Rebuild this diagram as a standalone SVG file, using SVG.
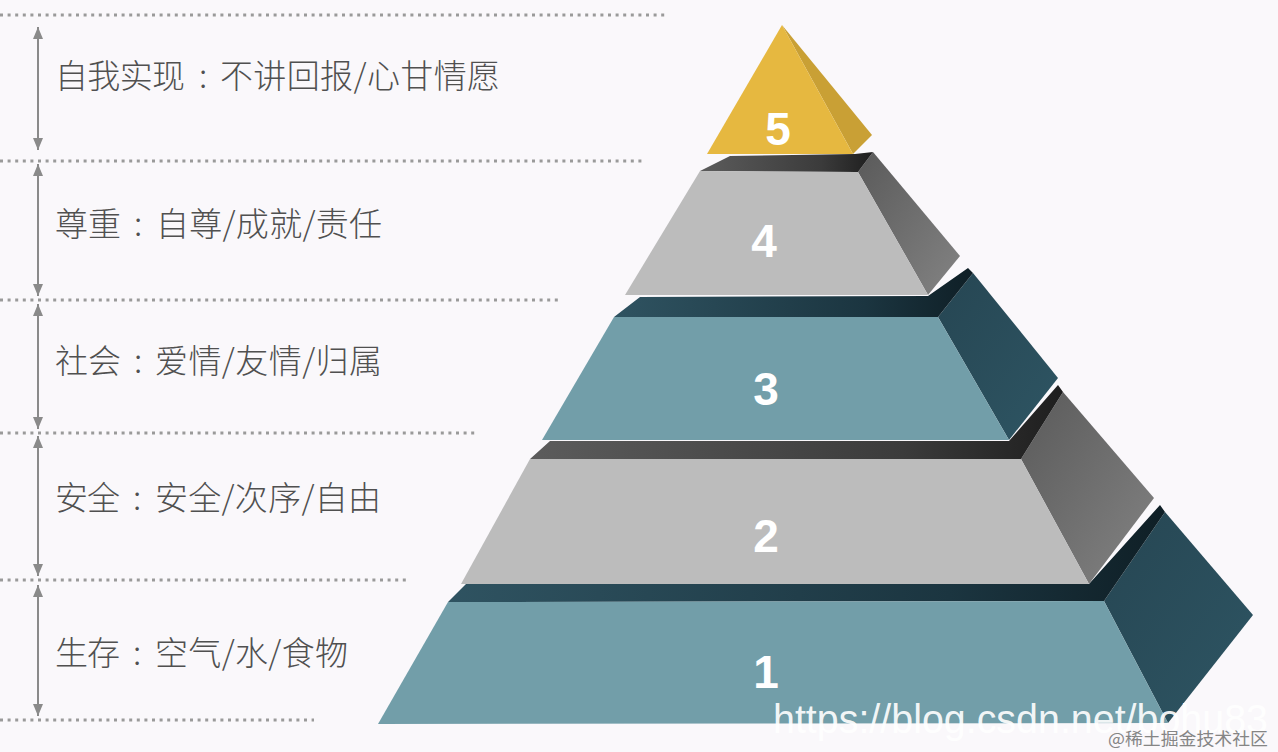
<svg xmlns="http://www.w3.org/2000/svg" width="1278" height="752" viewBox="0 0 1278 752">
<style>
.lbl{font-family:"Noto Sans CJK SC","Noto Sans",sans-serif;font-size:33px;font-weight:300;fill:#505050}
.col{text-anchor:middle}
.num{font-family:"Liberation Sans",Arial,sans-serif;font-size:46px;font-weight:bold;fill:#ffffff;text-anchor:middle}
.dot{stroke:#9a9a9a;stroke-width:3;stroke-dasharray:3 4.6;fill:none}
.arr{stroke:#8a8a8a;stroke-width:2;fill:none;marker-start:url(#ah);marker-end:url(#ah)}
.tealF{fill:#729ea9}
.greyF{fill:#bcbcbc}
</style>
<defs>
<marker id="ah" viewBox="0 0 12 10" refX="12" refY="5" markerWidth="12" markerHeight="10" orient="auto-start-reverse" markerUnits="userSpaceOnUse">
<path d="M0,0 L12,5 L0,10 Z" fill="#8a8a8a"/>
</marker>
<linearGradient id="tealBand" x1="0" y1="0" x2="1" y2="0">
<stop offset="0" stop-color="#2f5361"/><stop offset="0.7" stop-color="#1b3540"/><stop offset="1" stop-color="#0f1f26"/>
</linearGradient>
<linearGradient id="greyBand" x1="0" y1="0" x2="1" y2="0">
<stop offset="0" stop-color="#5c5c5c"/><stop offset="0.7" stop-color="#3b3b3b"/><stop offset="1" stop-color="#1e1e1e"/>
</linearGradient>
<linearGradient id="tealSide" x1="0" y1="0" x2="1" y2="1">
<stop offset="0" stop-color="#264653"/><stop offset="1" stop-color="#2e5563"/>
</linearGradient>
<linearGradient id="greySide" x1="0" y1="0" x2="1" y2="1">
<stop offset="0" stop-color="#5a5a5a"/><stop offset="1" stop-color="#838383"/>
</linearGradient>
</defs>
<rect width="1278" height="752" fill="#faf8fb"/>

<g id="connectors">
<line class="dot" x1="0" y1="15" x2="667" y2="15"/>
<line class="dot" x1="0" y1="161" x2="645" y2="161"/>
<line class="dot" x1="0" y1="300" x2="561" y2="300"/>
<line class="dot" x1="0" y1="433" x2="478" y2="433"/>
<line class="dot" x1="0" y1="580" x2="407" y2="580"/>
<line class="dot" x1="0" y1="720" x2="314" y2="720"/>
<line class="arr" x1="38" y1="27" x2="38" y2="150"/>
<line class="arr" x1="38" y1="164" x2="38" y2="296"/>
<line class="arr" x1="38" y1="304" x2="38" y2="429"/>
<line class="arr" x1="38" y1="436" x2="38" y2="576"/>
<line class="arr" x1="38" y1="585" x2="38" y2="716"/>
</g>

<g id="label-5">
<text class="lbl" x="55" y="88" textLength="130" lengthAdjust="spacing">自我实现</text>
<text class="lbl col" x="203" y="88">:</text>
<text class="lbl" x="220" y="88" textLength="280" lengthAdjust="spacing">不讲回报/心甘情愿</text>
</g>
<g id="label-4">
<text class="lbl" x="55" y="236" textLength="66" lengthAdjust="spacing">尊重</text>
<text class="lbl col" x="138" y="236">:</text>
<text class="lbl" x="156" y="236" textLength="226" lengthAdjust="spacing">自尊/成就/责任</text>
</g>
<g id="label-3">
<text class="lbl" x="55" y="373" textLength="66" lengthAdjust="spacing">社会</text>
<text class="lbl col" x="138" y="373">:</text>
<text class="lbl" x="155" y="373" textLength="227" lengthAdjust="spacing">爱情/友情/归属</text>
</g>
<g id="label-2">
<text class="lbl" x="55" y="510" textLength="65" lengthAdjust="spacing">安全</text>
<text class="lbl col" x="137" y="510">:</text>
<text class="lbl" x="155" y="510" textLength="226" lengthAdjust="spacing">安全/次序/自由</text>
</g>
<g id="label-1">
<text class="lbl" x="55" y="665" textLength="65" lengthAdjust="spacing">生存</text>
<text class="lbl col" x="137" y="665">:</text>
<text class="lbl" x="155" y="665" textLength="193" lengthAdjust="spacing">空气/水/食物</text>
</g>

<g id="level-1">
<polygon points="1104,601 1165,512 1253,615 1168,723" fill="url(#tealSide)"/>
<polygon points="448,602 466,584 1089,584 1160,505 1165,512 1104,601" fill="url(#tealBand)"/>
<polygon class="tealF" points="448,602 1104,601 1168,723 378,724"/>
<text class="num" x="766" y="688">1</text>
</g>

<g id="level-2">
<polygon points="1021,459 1063,392 1154,498 1089,584" fill="url(#greySide)"/>
<polygon points="530,459 550,441 1009,441 1058,385 1063,392 1021,459" fill="url(#greyBand)"/>
<polygon class="greyF" points="530,459 1021,459 1089,584 461,584"/>
<text class="num" x="766" y="552">2</text>
</g>

<g id="level-3">
<polygon points="938,317 973,273 1058,378 1009,440" fill="url(#tealSide)"/>
<polygon points="614,317 640,297 928,296 968,268 973,273 938,317" fill="url(#tealBand)"/>
<polygon class="tealF" points="614,317 938,317 1009,440 542,440"/>
<text class="num" x="766" y="405">3</text>
</g>

<g id="level-4">
<polygon points="858,172 873,152 960,256 928,295" fill="url(#greySide)"/>
<polygon points="700,171 730,156 855,154 873,152 858,172" fill="url(#greyBand)"/>
<polygon class="greyF" points="700,171 858,172 928,295 625,295"/>
<text class="num" x="764" y="257">4</text>
</g>

<g id="level-5">
<polygon points="782,25 872,135 853,154" fill="#c9a035"/>
<polygon points="782,25 707,154 853,154" fill="#e6b840"/>
<text class="num" x="778" y="145">5</text>
</g>

<g id="watermark">
<text x="773" y="733" font-family="Liberation Sans, Arial, sans-serif" font-size="40" fill="#ffffff" fill-opacity="0.92" textLength="495" lengthAdjust="spacingAndGlyphs">https://blog.csdn.net/bohu83</text>
<text x="1108" y="745" font-family="Noto Sans CJK SC, sans-serif" font-size="17" fill="#858585" textLength="160" lengthAdjust="spacingAndGlyphs">@稀土掘金技术社区</text>
</g>
</svg>
